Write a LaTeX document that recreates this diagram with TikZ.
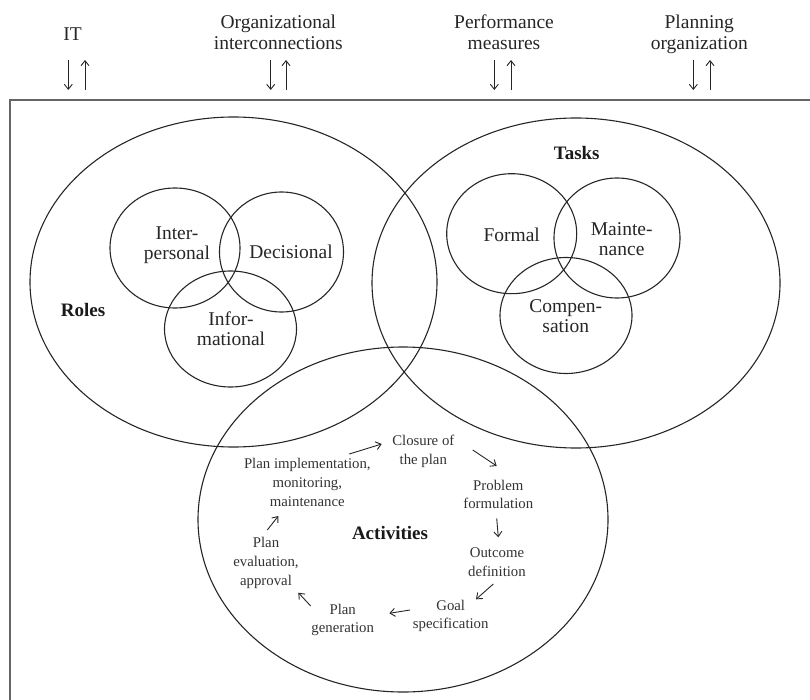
\documentclass[tikz,border=0pt]{standalone}
\usepackage{fontspec}
\setmainfont{Liberation Serif}
\usetikzlibrary{arrows.meta}
\begin{document}
\begin{tikzpicture}[x=1pt,y=-1pt,
  frameline/.style={draw=black!60, line width=1.3pt},
  ring/.style={draw=black!85, line width=1.1pt},
  flow/.style={draw=black!85, line width=0.9pt, -{Straight Barb[length=5pt,width=8pt]}},
  toplabel/.style={align=center, inner sep=0pt, text=black!85, font=\fontsize{19.5}{21}\selectfont},
  vennlabel/.style={align=center, inner sep=0pt, text=black!85, font=\fontsize{19.5}{20}\selectfont},
  heading/.style={inner sep=0pt, text=black!90, font=\fontsize{19}{21}\selectfont\bfseries},
  steplabel/.style={align=center, inner sep=0pt, text=black!80, font=\fontsize{14.8}{18.7}\selectfont}]
\useasboundingbox (0,0) rectangle (810,700);

% outer frame: top rule and left rule
\draw[frameline] (810,100) -- (10,100) -- (10,700);

% influencing factors along the top
\node[toplabel] (it)   at (72.7,34.5)  {IT};
\node[toplabel] (org)  at (278.3,32.5) {Organizational\\interconnections};
\node[toplabel] (perf) at (504,32.5)   {Performance\\measures};
\node[toplabel] (plan) at (699.3,34.5) {Planning\\organization};

\foreach \n/\a/\b in {it/68.3/85, org/270.7/286, perf/494.3/511, plan/693.3/710}{
  \coordinate (\n-dtop) at (\a,60);
  \coordinate (\n-dbot) at (\a,90);
  \coordinate (\n-utop) at (\b,60);
  \coordinate (\n-ubot) at (\b,90);
  \draw[flow] (\n-dtop) -- (\n-dbot);
  \draw[flow] (\n-ubot) -- (\n-utop);
}

% the three large sets
\draw[ring] (233.5,282) ellipse [x radius=203.5, y radius=165];
\draw[ring] (576,283)   ellipse [x radius=204,   y radius=165];
\draw[ring] (403,519.5) ellipse [x radius=205,   y radius=172.5];

% roles
\draw[ring] (175,248)   ellipse [x radius=65, y radius=60];
\draw[ring] (281.5,252) ellipse [x radius=62, y radius=60];
\draw[ring] (230.5,329) ellipse [x radius=66, y radius=58];

% tasks
\draw[ring] (511.7,233.7) ellipse [x radius=65, y radius=60];
\draw[ring] (617,238)     ellipse [x radius=63, y radius=60];
\draw[ring] (566,315.5)   ellipse [x radius=66, y radius=58];

\node[heading] (roles) at (83,310)     {Roles};
\node[heading] (tasks) at (576.7,153.3) {Tasks};
\node[heading] (acts)  at (390,533.3)  {Activities};

\node[vennlabel] (inter) at (177,245)     {Inter-\\personal};
\node[vennlabel] (deci)  at (291,252)     {Decisional};
\node[vennlabel] (info)  at (231,329.2)   {Infor-\\mational};
\node[vennlabel] (form)  at (511.7,235)   {Formal};
\node[vennlabel] (maint) at (621.7,239)   {Mainte-\\nance};
\node[vennlabel] (comp)  at (565.7,315.8) {Compen-\\sation};

% planning cycle
\node[steplabel] (closure) at (423.3,451.3) {Closure of\\the plan};
\node[steplabel] (problem) at (498.3,494.3) {Problem\\formulation};
\node[steplabel] (outcome) at (497,562.3)   {Outcome\\definition};
\node[steplabel] (goal)    at (450.7,615.8) {Goal\\specification};
\node[steplabel] (plangen) at (342.7,620)   {Plan\\generation};
\node[steplabel] (eval)    at (266,562.8)   {Plan\\evaluation,\\approval};
\node[steplabel] (impl)    at (307.3,482.5) {Plan implementation,\\monitoring,\\maintenance};

\draw[flow] ([shift={(42,-28.5)}]impl.center)    -- ([shift={(-41.6,-7.3)}]closure.center);
\draw[flow] ([shift={(49.4,-1.3)}]closure.center) -- ([shift={(-1.6,-28.3)}]problem.center);
\draw[flow] ([shift={(-1.6,24)}]problem.center)  -- ([shift={(1.3,-25)}]outcome.center);
\draw[flow] ([shift={(-3.7,21.7)}]outcome.center) -- ([shift={(25.3,-16.5)}]goal.center);
\draw[flow] ([shift={(-40.7,-5.8)}]goal.center)  -- ([shift={(46.6,-6.7)}]plangen.center);
\draw[flow] ([shift={(-32,-14)}]plangen.center)  -- ([shift={(32.3,29.9)}]eval.center);
\draw[flow] ([shift={(1.3,-32.8)}]eval.center)   -- ([shift={(-29,33.5)}]impl.center);
\end{tikzpicture}
\end{document}
